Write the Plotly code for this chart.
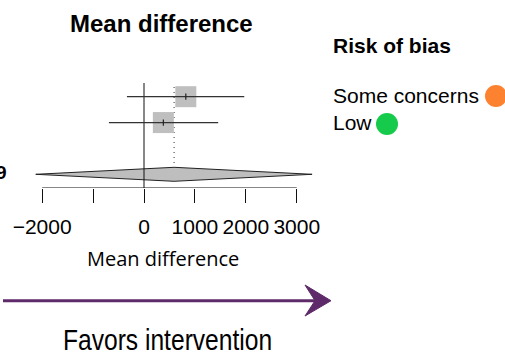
import plotly.graph_objects as go

# ---------------- data ----------------
study_rows = [2, 1]
mean_diff = [821, 380]
ci_lower = [-335, -689]
ci_upper = [1969, 1457]
pooled_row = -1
pooled_est = 591
pooled_lower = -2126
pooled_upper = 3301
tick_values = [-2000, -1000, 0, 1000, 2000, 3000]
tick_labels = ["\u22122000", "", "0", "1000", "2000", "3000"]
rob_labels = ["Some concerns", "Low"]
rob_colors = ["#FD8230", "#16CB4B"]

# ---------------- geometry helpers ----------------
W, H = 505, 354
X0, XS = 144.0, 0.05092      # pixel of x=0, pixels per unit
Y0, YS = 148.43, 25.87       # pixel of row 0, pixels per row
AXIS_PX = 188


def xd(px):
    return (px - X0) / XS


def yd(py):
    return (Y0 - py) / YS


ARIAL = "Liberation Sans, Arial, sans-serif"
fig = go.Figure()

# pooled diamond
h = 7 / YS
fig.add_trace(go.Scatter(
    x=[pooled_lower, pooled_est, pooled_upper, pooled_est, pooled_lower],
    y=[pooled_row, pooled_row + h, pooled_row, pooled_row - h, pooled_row],
    mode="lines", fill="toself", fillcolor="#BEBEBE",
    line=dict(color="#222222", width=1), hoverinfo="skip"))

# zero line
fig.add_trace(go.Scatter(x=[0, 0], y=[yd(83), yd(AXIS_PX)], mode="lines",
                         line=dict(color="#111111", width=1), hoverinfo="skip"))
# dotted pooled line
fig.add_trace(go.Scatter(x=[pooled_est, pooled_est], y=[yd(87), pooled_row + h],
                         mode="lines", line=dict(color="#333333", width=1, dash="1px,4px"),
                         hoverinfo="skip"))

# squares
fig.add_trace(go.Scatter(x=mean_diff, y=study_rows, mode="markers",
                         marker=dict(symbol="square", size=21, color="#BFBFBF",
                                     line=dict(width=0)), hoverinfo="skip"))
# CI lines and estimate ticks
for r, m, lo, hi in zip(study_rows, mean_diff, ci_lower, ci_upper):
    fig.add_trace(go.Scatter(x=[lo, hi], y=[r, r], mode="lines",
                             line=dict(color="#333333", width=1.2), hoverinfo="skip"))
    fig.add_trace(go.Scatter(x=[m, m], y=[r - 0.12, r + 0.12], mode="lines",
                             line=dict(color="#222222", width=1.2), hoverinfo="skip"))

# axis line
fig.add_trace(go.Scatter(x=[tick_values[0], tick_values[-1]], y=[yd(AXIS_PX)] * 2,
                         mode="lines", line=dict(color="#111111", width=1),
                         hoverinfo="skip", cliponaxis=False))

# legend circles (pixel overlay axes)
fig.add_trace(go.Scatter(x=[496, 387], y=[96, 124], mode="markers",
                         marker=dict(size=22, color=rob_colors, line=dict(width=0)),
                         xaxis="x2", yaxis="y2", hoverinfo="skip"))

# arrow
PURPLE = "#5E2A69"
fig.add_trace(go.Scatter(x=[3, 318], y=[300.7, 300.7], mode="lines",
                         line=dict(color=PURPLE, width=3), xaxis="x2", yaxis="y2",
                         hoverinfo="skip"))
fig.add_trace(go.Scatter(x=[305, 331, 305, 315, 305], y=[285, 300.7, 316, 300.7, 285],
                         mode="lines", fill="toself", fillcolor=PURPLE,
                         line=dict(color=PURPLE, width=1), xaxis="x2", yaxis="y2",
                         hoverinfo="skip"))

ann = []


def add_text(text, x, y, size, family=ARIAL, bold=False, xanchor="center"):
    ann.append(dict(text=("<b>%s</b>" % text) if bold else text, x=x, y=y,
                    xref="x2", yref="y2", xanchor=xanchor, yanchor="middle",
                    showarrow=False,
                    font=dict(size=size, family=family, color="#000000")))


add_text("Mean difference", 161, 23.2, 24, bold=True)
add_text("Mean difference", 162.5, 258.5, 20, family="Open Sans, Noto Sans, sans-serif")
add_text("Favors intervention", 167, 339, 30)
add_text("Risk of bias", 331, 45.8, 21, bold=True, xanchor="left")
add_text(rob_labels[0], 331, 95.8, 21, xanchor="left")
add_text(rob_labels[1], 331, 122.9, 21, xanchor="left")
add_text("9", 8.5, 172, 19, bold=True, xanchor="right")

fig.update_layout(
    width=W, height=H, margin=dict(l=0, r=0, t=0, b=0),
    paper_bgcolor="white", plot_bgcolor="rgba(0,0,0,0)",
    showlegend=False, annotations=ann,
    xaxis=dict(domain=[0, 1], range=[xd(0), xd(W)], tickvals=tick_values,
               ticktext=tick_labels, ticks="outside", ticklen=14, tickwidth=1,
               tickcolor="#111111", showline=False, showgrid=False, zeroline=False,
               tickfont=dict(size=21, family=ARIAL, color="#000000"),
               ticklabelstandoff=6, anchor="y", fixedrange=True),
    yaxis=dict(domain=[(H - AXIS_PX) / H, 1], range=[yd(AXIS_PX), yd(0)],
               visible=False, fixedrange=True),
    xaxis2=dict(domain=[0, 1], range=[0, W], visible=False, anchor="y2", fixedrange=True),
    yaxis2=dict(domain=[0, 1], range=[H, 0], visible=False, anchor="x2", fixedrange=True),
)

# remove the default page margin and give the caption a narrow (condensed) look
post = """
document.body.style.margin = '0';
document.documentElement.style.overflow = 'hidden';
var gd = document.getElementById('{plot_id}');
gd.querySelectorAll('text.annotation-text').forEach(function (t) {
  if (t.textContent === 'Favors intervention') {
    var bb = t.getBBox();
    var cx = bb.x + bb.width / 2;
    t.setAttribute('transform', 'translate(' + cx + ',0) scale(0.82,1) translate(' + (-cx) + ',0)');
  }
});
"""
fig.write_html("out.html", post_script=post, config={"displayModeBar": False})
